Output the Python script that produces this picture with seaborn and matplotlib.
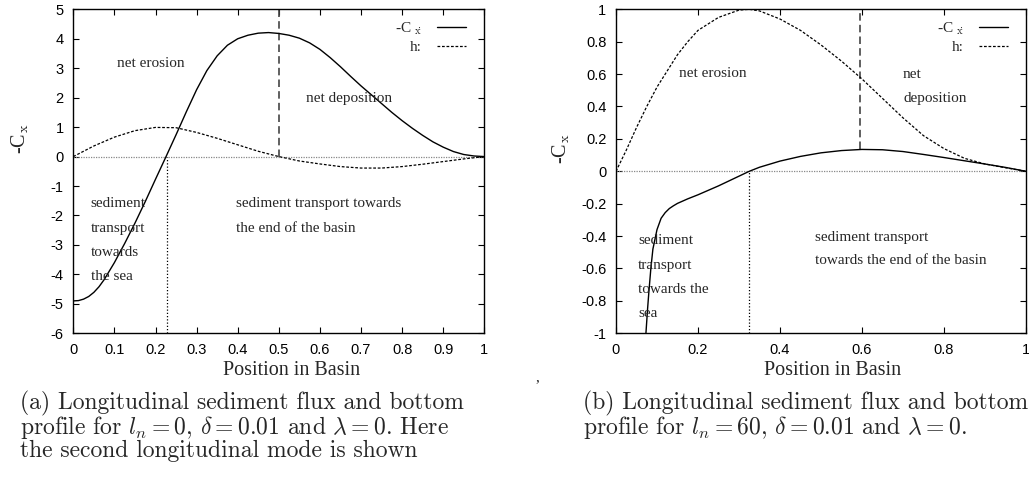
import numpy as np
import pandas as pd
import matplotlib
matplotlib.use("Agg")
import matplotlib.pyplot as plt
import seaborn as sns

# ---------------- data ----------------
left_x = [0.0, 0.0125, 0.025, 0.0375, 0.05, 0.0625, 0.075, 0.1, 0.125, 0.15,
          0.175, 0.2, 0.225, 0.25, 0.275, 0.3, 0.325, 0.35, 0.375, 0.4,
          0.425, 0.45, 0.475, 0.5, 0.525, 0.55, 0.575, 0.6, 0.625, 0.65,
          0.675, 0.7, 0.725, 0.75, 0.775, 0.8, 0.825, 0.85, 0.875, 0.9,
          0.925, 0.95, 0.975, 1.0]
left_cx = [-4.90, -4.89, -4.84, -4.75, -4.61, -4.42, -4.18, -3.60, -2.95, -2.26,
           -1.53, -0.77, -0.02, 0.74, 1.52, 2.27, 2.92, 3.42, 3.78, 4.00,
           4.12, 4.19, 4.21, 4.18, 4.12, 4.02, 3.86, 3.64, 3.36, 3.05,
           2.72, 2.40, 2.10, 1.80, 1.50, 1.22, 0.96, 0.72, 0.50, 0.32,
           0.17, 0.07, 0.02, 0.0]
left_hx = [0.0, 0.05, 0.1, 0.15, 0.2, 0.25, 0.3, 0.35, 0.4, 0.45, 0.5,
           0.55, 0.6, 0.65, 0.7, 0.75, 0.8, 0.85, 0.9, 0.95, 1.0]
left_h = [0.0, 0.36, 0.66, 0.88, 0.99, 0.98, 0.82, 0.62, 0.40, 0.18, 0.0,
          -0.15, -0.25, -0.34, -0.39, -0.39, -0.34, -0.26, -0.17, -0.08, 0.0]

right_x = [0.073, 0.077, 0.08, 0.085, 0.09, 0.1, 0.11, 0.12, 0.13, 0.14,
           0.15, 0.175, 0.2, 0.25, 0.3, 0.325, 0.35, 0.4, 0.45, 0.5,
           0.55, 0.6, 0.65, 0.7, 0.75, 0.8, 0.85, 0.9, 0.95, 1.0]
right_cx = [-1.0, -0.85, -0.75, -0.60, -0.48, -0.36, -0.29, -0.255, -0.23, -0.213,
            -0.198, -0.17, -0.145, -0.09, -0.03, 0.0, 0.025, 0.063, 0.092, 0.114,
            0.128, 0.135, 0.133, 0.122, 0.104, 0.085, 0.065, 0.045, 0.024, 0.0]
right_hx = [0.0, 0.025, 0.05, 0.075, 0.1, 0.125, 0.15, 0.175, 0.2, 0.25, 0.3,
            0.325, 0.35, 0.4, 0.45, 0.5, 0.55, 0.6, 0.65, 0.7, 0.75, 0.8,
            0.85, 0.9, 0.95, 1.0]
right_h = [0.0, 0.13, 0.27, 0.40, 0.52, 0.62, 0.72, 0.80, 0.87, 0.95, 0.995,
           1.0, 0.99, 0.94, 0.87, 0.78, 0.68, 0.57, 0.45, 0.33, 0.22, 0.14,
           0.08, 0.045, 0.022, 0.0]

# marker lines: (x, y from, y to)
left_dash = (0.5, 0.0, 5.0)
left_dot = (0.228, -6.0, 0.0)
right_dash = (0.595, 0.136, 1.0)
right_dot = (0.325, -1.0, 0.0)

left_xticks = [0, 0.1, 0.2, 0.3, 0.4, 0.5, 0.6, 0.7, 0.8, 0.9, 1]
left_xticklabels = ["0", "0.1", "0.2", "0.3", "0.4", "0.5", "0.6", "0.7", "0.8", "0.9", "1"]
left_yticks = [5, 4, 3, 2, 1, 0, -1, -2, -3, -4, -5, -6]
right_xticks = [0, 0.2, 0.4, 0.6, 0.8, 1]
right_xticklabels = ["0", "0.2", "0.4", "0.6", "0.8", "1"]
right_yticks = [1, 0.8, 0.6, 0.4, 0.2, 0, -0.2, -0.4, -0.6, -0.8, -1]
right_yticklabels = ["1", "0.8", "0.6", "0.4", "0.2", "0", "-0.2", "-0.4", "-0.6", "-0.8", "-1"]

left_notes = [("net erosion", 0.106, 3.17), ("net deposition", 0.566, 1.98),
              ("sediment", 0.042, -1.60), ("transport", 0.042, -2.43),
              ("towards", 0.042, -3.25), ("the sea", 0.042, -4.07),
              ("sediment transport towards", 0.397, -1.60),
              ("the end of the basin", 0.397, -2.43)]
right_notes = [("net erosion", 0.153, 0.605), ("net", 0.70, 0.60),
               ("deposition", 0.70, 0.45), ("sediment", 0.054, -0.428),
               ("transport", 0.054, -0.58), ("towards the", 0.054, -0.728),
               ("sea", 0.054, -0.877), ("sediment transport", 0.485, -0.407),
               ("towards the end of the basin", 0.485, -0.551)]

caption_a = ("(a) Longitudinal sediment flux and bottom\n"
             r"profile for $l_n = 0$, $\delta = 0.01$ and $\lambda = 0$. Here" "\n"
             "the second longitudinal mode is shown")
caption_b = ("(b) Longitudinal sediment flux and bottom\n"
             r"profile for $l_n = 60$, $\delta = 0.01$ and $\lambda = 0$.")

# ---------------- style ----------------
sns.set_theme(style="ticks")
plt.rcParams["font.family"] = ["Liberation Sans", "DejaVu Sans"]
plt.rcParams["axes.unicode_minus"] = False
plt.rcParams["mathtext.fontset"] = "cm"

W, H = 1029, 494
fig = plt.figure(figsize=(W / 100, H / 100), dpi=100)
fig.patch.set_facecolor("white")

def px_axes(l, t, r, b):
    return fig.add_axes([l / W, 1 - b / H, (r - l) / W, (b - t) / H])

axL = px_axes(73.3, 9.3, 484.3, 333.3)
axR = px_axes(616.0, 9.3, 1026.0, 333.3)

solid_kw = dict(color="black", linewidth=1.0)
h_kw = dict(color="black", linewidth=0.9, linestyle=(0, (2.2, 1.4)))
serif = ["Liberation Serif", "DejaVu Serif"]

def draw(ax, cx_x, cx_y, h_x, h_y, dash, dot, xlim, ylim):
    ax.axhline(0, color="#888888", linewidth=0.9, linestyle=(0, (1, 1)), zorder=1)
    ax.plot([dash[0], dash[0]], [dash[1], dash[2]], color="#444444",
            linewidth=1.2, linestyle=(0, (4.5, 2.5)), zorder=2)
    ax.plot([dot[0], dot[0]], [dot[1], dot[2]], color="black",
            linewidth=0.9, linestyle=(0, (1, 1.6)), zorder=2)
    sns.lineplot(x=cx_x, y=cx_y, ax=ax, label=r"-C $_{\dot{\mathrm{x}}}$",
                 estimator=None, sort=False, zorder=3, **solid_kw)
    sns.lineplot(x=h_x, y=h_y, ax=ax, label="h:", estimator=None, sort=False,
                 zorder=3, **h_kw)
    ax.set_xlim(*xlim)
    ax.set_ylim(*ylim)
    for s in ax.spines.values():
        s.set_visible(True)
        s.set_linewidth(1.0)
        s.set_color("black")
    ax.tick_params(direction="in", length=4, width=0.8, top=True, right=True,
                   labelsize=10.5, colors="black", pad=7)
    ax.set_xlabel("Position in Basin", fontsize=14.5, family=serif, labelpad=2)
    ax.set_ylabel(r"-C$_{\mathrm{x}}$", fontsize=14.5, family=serif)
    leg = ax.legend(loc="upper right", frameon=False, markerfirst=False,
                    prop={"family": serif, "size": 11}, handlelength=1.9,
                    handletextpad=1.0, labelspacing=0.25, borderpad=0.2,
                    borderaxespad=0.3, bbox_to_anchor=(0.975, 0.99))
    for t in leg.get_texts():
        t.set_ha("right")

draw(axL, left_x, left_cx, left_hx, left_h, left_dash, left_dot, (0, 1), (-6, 5))
axL.set_xticks(left_xticks)
axL.set_xticklabels(left_xticklabels)
axL.set_yticks(left_yticks)
axL.set_yticklabels([str(v) for v in left_yticks])
axL.yaxis.set_label_coords(-0.104, 0.60)
axL.xaxis.set_label_coords(0.53, -0.085)
for txt, x, y in left_notes:
    axL.text(x, y, txt, family=serif, fontsize=11, ha="left", va="center")

draw(axR, right_x, right_cx, right_hx, right_h, right_dash, right_dot, (0, 1), (-1, 1))
axR.set_xticks(right_xticks)
axR.set_xticklabels(right_xticklabels)
axR.set_yticks(right_yticks)
axR.set_yticklabels(right_yticklabels)
axR.yaxis.set_label_coords(-0.108, 0.57)
axR.xaxis.set_label_coords(0.528, -0.085)
for txt, x, y in right_notes:
    axR.text(x, y, txt, family=serif, fontsize=11, ha="left", va="center")

fig.text(537 / W, 1 - 378 / H, ",", family=serif, fontsize=11, ha="center", va="center")
fig.text(20 / W, 1 - 391 / H, caption_a, family=["cmr10", "DejaVu Serif"],
         fontsize=17, ha="left", va="top", linespacing=0.9)
fig.text(583 / W, 1 - 391 / H, caption_b, family=["cmr10", "DejaVu Serif"],
         fontsize=17, ha="left", va="top", linespacing=0.9)

fig.savefig("out.png", dpi=100, facecolor="white")
